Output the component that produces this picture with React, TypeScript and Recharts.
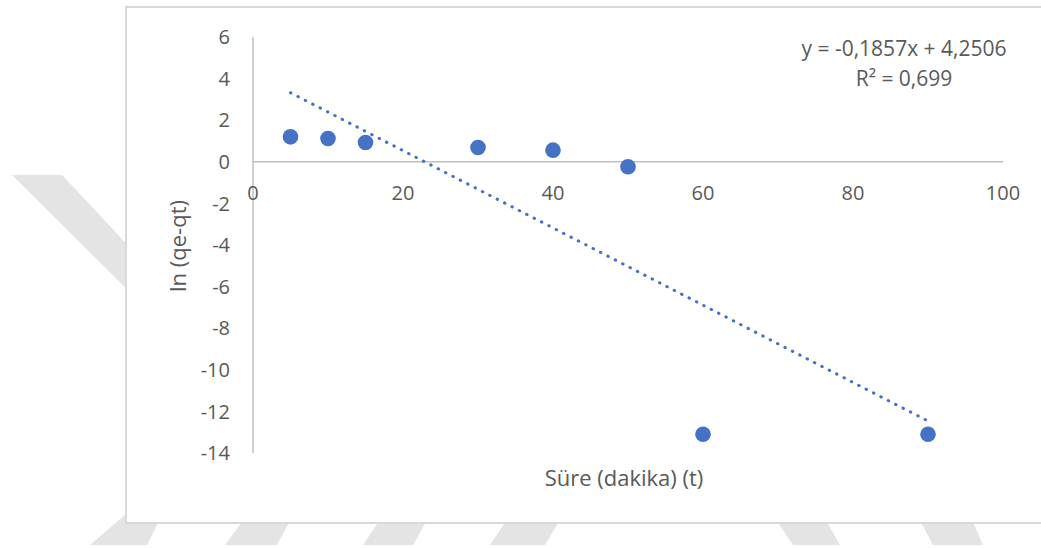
import {
  ScatterChart,
  Scatter,
  XAxis,
  YAxis,
  ReferenceLine,
  ReferenceDot,
} from "recharts";

// measured points: time (min) vs ln(qe-qt)
const times = [5, 10, 15, 30, 40, 50, 60, 90];
const lnValues = [1.2, 1.12, 0.93, 0.69, 0.56, -0.24, -13.1, -13.1];

const xTicks = [0, 20, 40, 60, 80, 100];
const yTicks = [-14, -12, -10, -8, -6, -4, -2, 0, 2, 4, 6];

// Excel linear trendline as printed on the chart
const slope = -0.1857;
const intercept = 4.2506;
const equationLines = ["y = -0,1857x + 4,2506", "R² = 0,699"];

const xTitle = "Süre (dakika) (t)";
const yTitle = "ln (qe-qt)";

const FONT = "'Open Sans', 'DejaVu Sans', sans-serif";
const TEXT = "#595959";
const AXIS = "#bfbfbf";
const BLUE = "#4472C4";

const points = times.map((t, i) => ({ t, v: lnValues[i] }));
const xFirst = times[0];
const xLast = times[times.length - 1];
const trendSegment = [
  { x: xFirst, y: slope * xFirst + intercept },
  { x: xLast, y: slope * xLast + intercept },
];

const Dot = (props: any) => (
  <circle cx={props.cx} cy={props.cy} r={7.8} fill={BLUE} />
);

export default function App() {
  return (
    <div
      style={{
        position: "absolute",
        left: 0,
        top: 0,
        width: 1041,
        height: 548,
        overflow: "hidden",
        background: "#fff",
        fontFamily: FONT,
      }}
    >
      {/* faint watermark behind the chart frame */}
      <svg
        width={1041}
        height={548}
        style={{ position: "absolute", left: 0, top: 0 }}
      >
        <g fill="#e4e4e4">
          <polygon points="12,175 62,175 140,258 140,302" />
          <polygon points="125,515 162,515 147,545 90,545" />
          <polygon points="247,515 293,515 277,545 225,545" />
          <polygon points="383,515 430,515 413,545 363,545" />
          <polygon points="510,515 563,515 545,545 490,545" />
          <polygon points="773,515 823,515 840,545 793,545" />
          <polygon points="917,515 970,515 983,545 933,545" />
        </g>
      </svg>

      <div
        style={{
          position: "absolute",
          left: 125,
          top: 6,
          width: 1000,
          height: 514,
          border: "2px solid #d9d9d9",
          background: "#fff",
        }}
      />

      <div style={{ position: "absolute", left: 0, top: 0 }}>
        <ScatterChart
          width={1041}
          height={548}
          margin={{ top: 37, right: 38, bottom: 95, left: 193 }}
        >
          <XAxis
            type="number"
            dataKey="t"
            domain={[0, 100]}
            ticks={xTicks}
            hide
          />
          <YAxis
            type="number"
            dataKey="v"
            domain={[-14, 6]}
            ticks={yTicks}
            width={60}
            tickLine={false}
            tickSize={15}
            tickMargin={8}
            axisLine={{ stroke: AXIS, strokeWidth: 1.5 }}
            tick={{ fill: TEXT, fontSize: 20, fontFamily: FONT }}
          />
          <ReferenceLine y={0} stroke={AXIS} strokeWidth={1.5} />
          {xTicks.map((t) => (
            <ReferenceDot
              key={t}
              x={t}
              y={0}
              r={0}
              fill="none"
              stroke="none"
              label={{
                value: String(t),
                position: "bottom",
                offset: 24,
                fill: TEXT,
                fontSize: 20,
                fontFamily: FONT,
              }}
            />
          ))}
          <ReferenceLine
            segment={trendSegment}
            stroke={BLUE}
            strokeWidth={3}
            strokeDasharray="0.5 7.8"
            strokeLinecap="round"
          />
          <Scatter
            data={points}
            fill={BLUE}
            shape={Dot}
            isAnimationActive={false}
          />
        </ScatterChart>
      </div>

      <div
        style={{
          position: "absolute",
          left: 754,
          top: 33,
          width: 300,
          textAlign: "center",
          lineHeight: "30px",
          fontSize: 21,
          color: TEXT,
        }}
      >
        {equationLines.map((l) => (
          <div key={l}>{l}</div>
        ))}
      </div>

      <div
        style={{
          position: "absolute",
          left: 474,
          top: 462,
          width: 300,
          textAlign: "center",
          fontSize: 22,
          lineHeight: "30px",
          color: TEXT,
        }}
      >
        {xTitle}
      </div>

      <div
        style={{
          position: "absolute",
          left: 27,
          top: 231,
          width: 300,
          textAlign: "center",
          fontSize: 22,
          lineHeight: "30px",
          color: TEXT,
          transform: "rotate(-90deg)",
          transformOrigin: "150px 15px",
        }}
      >
        {yTitle}
      </div>
    </div>
  );
}
